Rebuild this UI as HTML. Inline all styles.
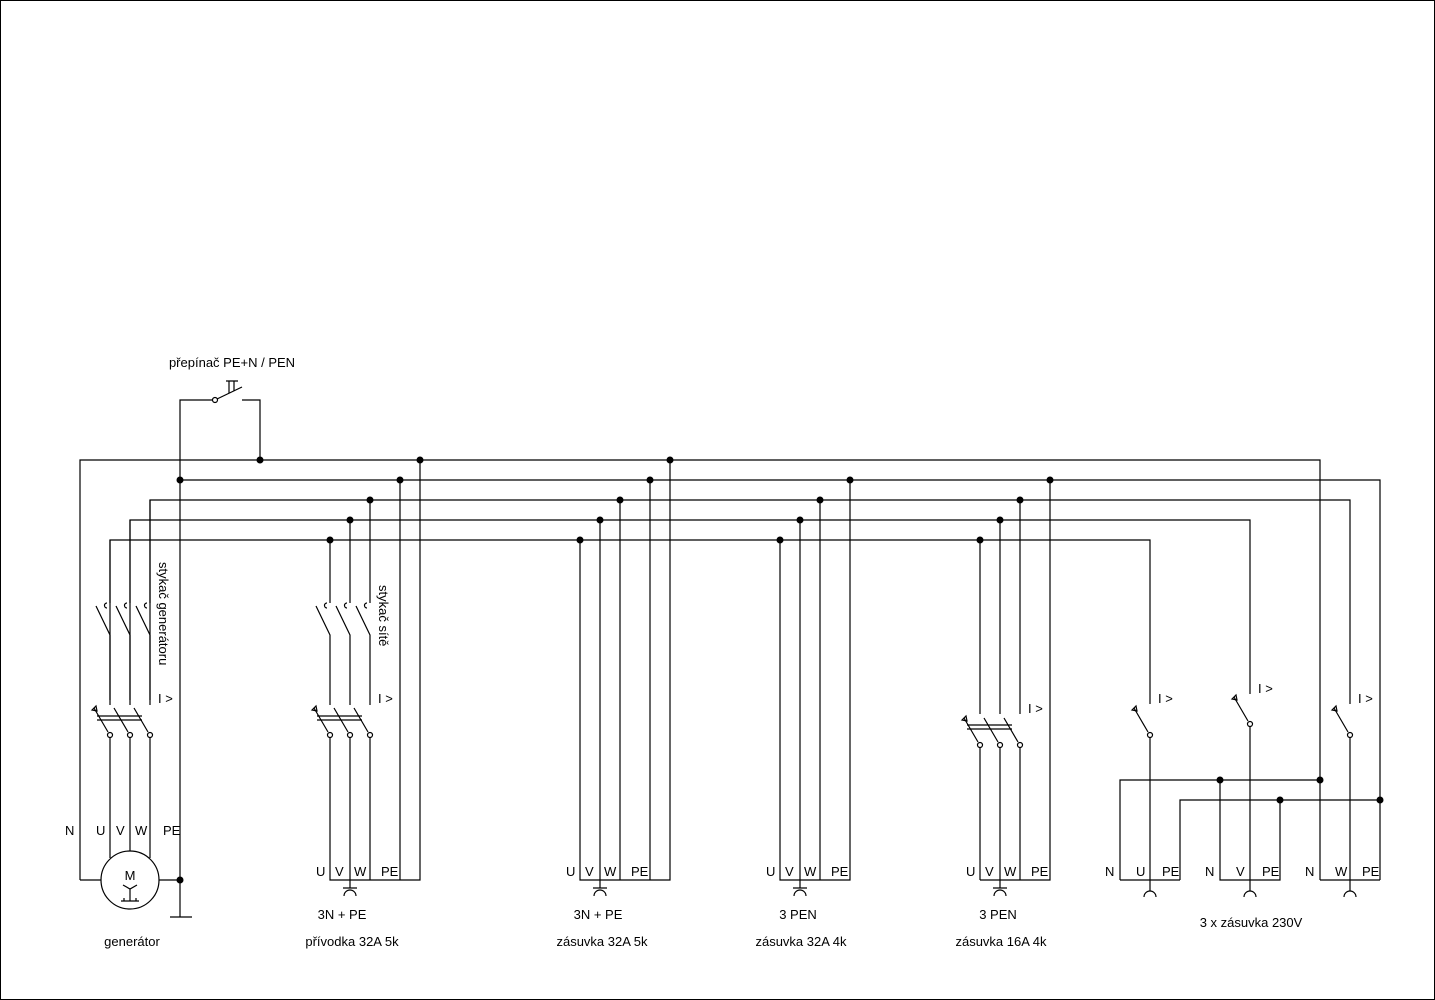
<!DOCTYPE html>
<html><head><meta charset="utf-8"><style>
html,body{margin:0;padding:0;background:#fff}
svg{display:block}
text{font-family:"Liberation Sans",sans-serif;font-size:13px;fill:#000}
</style></head><body>
<svg width="1435" height="1000" viewBox="0 0 1435 1000" xmlns="http://www.w3.org/2000/svg">
<rect x="0.5" y="0.5" width="1434" height="999" fill="none" stroke="#000"/>
<g stroke="#000" stroke-width="1.2" fill="none">
<path d="M80 880 V460 H1320 V880"/>
<path d="M180 917 V400 H212"/>
<path d="M180 480 H1380 V880"/>
<path d="M150 700 V500 H1350 V704"/>
<path d="M130 700 V520 H1250 V694"/>
<path d="M110 700 V540 H1150 V704"/>
<circle cx="215" cy="400" r="2.5"/>
<path d="M217 399 L242 387"/>
<path d="M242 400 H260 V460"/>
<path d="M226 381 H238 M229 381 V393 M234 381 V391"/>
</g>
<g stroke="#000" stroke-width="1.2" fill="none">
<path d="M110 540 V603 M130 520 V603 M150 500 V603"/>
<path d="M107 603 a2.5 2.5 0 1 0 0 5 M127 603 a2.5 2.5 0 1 0 0 5 M147 603 a2.5 2.5 0 1 0 0 5"/>
<path d="M96 606 L110 635 V705 M116 606 L130 635 V705 M136 606 L150 635 V705"/>
<path d="M94 708 L108 732 M114 708 L128 732 M134 708 L148 732"/>
<path d="M97 716 H142 M97 720 H142"/>
<circle cx="110" cy="735" r="2.5"/><circle cx="130" cy="735" r="2.5"/><circle cx="150" cy="735" r="2.5"/>
<path d="M92 710 l4 -4 l1 5 z"/>
<path d="M110 738 V858 M130 738 V851 M150 738 V858"/>
<path d="M80 880 H101 M159 880 H180"/>
<circle cx="130" cy="880" r="29"/>
<path d="M123 885 L130 889 L137 885 M130 889 V898 M121 901 H139 M124 901 V898 M130 901 V898 M136 901 V898"/>
<path d="M170 917 H192"/>

<path d="M330 540 V603 M350 520 V603 M370 500 V603"/>
<path d="M327 603 a2.5 2.5 0 1 0 0 5 M347 603 a2.5 2.5 0 1 0 0 5 M367 603 a2.5 2.5 0 1 0 0 5"/>
<path d="M316 606 L330 635 V705 M336 606 L350 635 V705 M356 606 L370 635 V705"/>
<path d="M314 708 L328 732 M334 708 L348 732 M354 708 L368 732"/>
<path d="M317 716 H362 M317 720 H362"/>
<circle cx="330" cy="735" r="2.5"/><circle cx="350" cy="735" r="2.5"/><circle cx="370" cy="735" r="2.5"/>
<path d="M312 710 l4 -4 l1 5 z"/>
<path d="M330 738 V880 H420 V460 M350 738 V888 M370 738 V880 M400 480 V880"/>
<path d="M343 888 H357 M344 896 a6 6 0 0 1 12 0"/>

<path d="M580 540 V880 H670 V460 M600 520 V888 M620 500 V880 M650 480 V880"/>
<path d="M593 888 H607 M594 896 a6 6 0 0 1 12 0"/>
<path d="M780 540 V880 H850 V480 M800 520 V888 M820 500 V880"/>
<path d="M793 888 H807 M794 896 a6 6 0 0 1 12 0"/>
<path d="M980 540 V714 M1000 520 V714 M1020 500 V714 M1050 480 V880 H980"/>
<path d="M964 718 L978 742 M984 718 L998 742 M1004 718 L1018 742"/>
<path d="M967 725 H1012 M967 729 H1012"/>
<circle cx="980" cy="745" r="2.5"/><circle cx="1000" cy="745" r="2.5"/><circle cx="1020" cy="745" r="2.5"/>
<path d="M962 720 l4 -4 l1 5 z"/>
<path d="M980 748 V880 M1000 748 V888 M1020 748 V880"/>
<path d="M993 888 H1007 M994 896 a6 6 0 0 1 12 0"/>

<path d="M1134 708 L1148 732 M1234 697 L1248 721 M1334 708 L1348 732"/>
<circle cx="1150" cy="735" r="2.5"/><circle cx="1250" cy="724" r="2.5"/><circle cx="1350" cy="735" r="2.5"/>
<path d="M1132 710 l4 -4 l1 5 z M1232 699 l4 -4 l1 5 z M1332 710 l4 -4 l1 5 z"/>
<path d="M1150 738 V891 M1250 727 V891 M1350 738 V891"/>
<path d="M1144 897 a6 6 0 0 1 12 0 M1244 897 a6 6 0 0 1 12 0 M1344 897 a6 6 0 0 1 12 0"/>
<path d="M1120 880 V780 H1320 M1220 780 V880 H1280 V800 M1180 880 V800 H1380 M1120 880 H1180 M1320 880 H1380"/>
</g>
<g fill="#000">
<circle cx="260" cy="460" r="3.5"/><circle cx="420" cy="460" r="3.5"/><circle cx="670" cy="460" r="3.5"/>
<circle cx="180" cy="480" r="3.5"/><circle cx="400" cy="480" r="3.5"/><circle cx="650" cy="480" r="3.5"/><circle cx="850" cy="480" r="3.5"/><circle cx="1050" cy="480" r="3.5"/>
<circle cx="370" cy="500" r="3.5"/><circle cx="620" cy="500" r="3.5"/><circle cx="820" cy="500" r="3.5"/><circle cx="1020" cy="500" r="3.5"/>
<circle cx="350" cy="520" r="3.5"/><circle cx="600" cy="520" r="3.5"/><circle cx="800" cy="520" r="3.5"/><circle cx="1000" cy="520" r="3.5"/>
<circle cx="330" cy="540" r="3.5"/><circle cx="580" cy="540" r="3.5"/><circle cx="780" cy="540" r="3.5"/><circle cx="980" cy="540" r="3.5"/>
<circle cx="180" cy="880" r="3.5"/>
<circle cx="1220" cy="780" r="3.5"/><circle cx="1320" cy="780" r="3.5"/><circle cx="1280" cy="800" r="3.5"/><circle cx="1380" cy="800" r="3.5"/>
</g>
<text x="232" y="367" text-anchor="middle">přepínač PE+N / PEN</text>
<text x="130" y="880" text-anchor="middle" font-size="17">M</text>
<text transform="translate(159,562) rotate(90)">stykač generátoru</text>
<text transform="translate(379,585) rotate(90)">stykač sítě</text>
<text x="158" y="703">I &gt;</text>
<text x="378" y="703">I &gt;</text>
<text x="1028" y="713">I &gt;</text>
<text x="1158" y="703">I &gt;</text>
<text x="1258" y="693">I &gt;</text>
<text x="1358" y="703">I &gt;</text>
<text x="65" y="835">N</text><text x="96" y="835">U</text><text x="116" y="835">V</text><text x="135" y="835">W</text><text x="163" y="835">PE</text>
<text x="316" y="876">U</text><text x="335" y="876">V</text><text x="354" y="876">W</text><text x="381" y="876">PE</text>
<text x="566" y="876">U</text><text x="585" y="876">V</text><text x="604" y="876">W</text><text x="631" y="876">PE</text>
<text x="766" y="876">U</text><text x="785" y="876">V</text><text x="804" y="876">W</text><text x="831" y="876">PE</text>
<text x="966" y="876">U</text><text x="985" y="876">V</text><text x="1004" y="876">W</text><text x="1031" y="876">PE</text>
<text x="1105" y="876">N</text><text x="1136" y="876">U</text><text x="1162" y="876">PE</text>
<text x="1205" y="876">N</text><text x="1236" y="876">V</text><text x="1262" y="876">PE</text>
<text x="1305" y="876">N</text><text x="1335" y="876">W</text><text x="1362" y="876">PE</text>
<text x="132" y="946" text-anchor="middle">generátor</text>
<text x="342" y="919" text-anchor="middle">3N + PE</text>
<text x="352" y="946" text-anchor="middle">přívodka 32A 5k</text>
<text x="598" y="919" text-anchor="middle">3N + PE</text>
<text x="602" y="946" text-anchor="middle">zásuvka 32A 5k</text>
<text x="798" y="919" text-anchor="middle">3 PEN</text>
<text x="801" y="946" text-anchor="middle">zásuvka 32A 4k</text>
<text x="998" y="919" text-anchor="middle">3 PEN</text>
<text x="1001" y="946" text-anchor="middle">zásuvka 16A 4k</text>
<text x="1251" y="927" text-anchor="middle">3 x zásuvka 230V</text>
</svg>
</body></html>
